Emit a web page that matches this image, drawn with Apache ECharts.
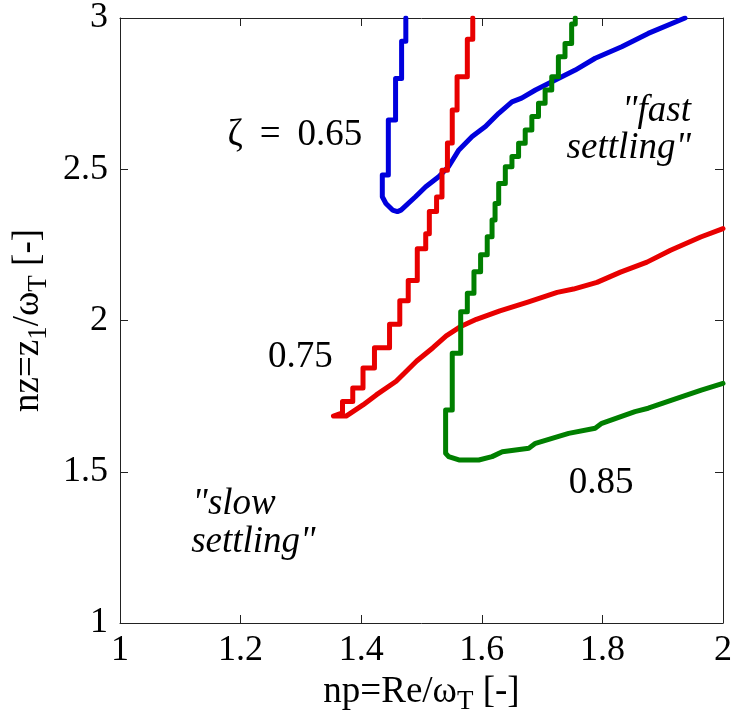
<!DOCTYPE html>
<html>
<head>
<meta charset="utf-8">
<script src="https://cdn.jsdelivr.net/npm/echarts@6/dist/echarts.min.js"></script>
<style>
html,body{margin:0;padding:0;background:#fff;}
#chart{width:735px;height:722px;}
</style>
</head>
<body>
<div id="chart"></div>
<script>
// Axis ticks
const xTicks = [1, 1.2, 1.4, 1.6, 1.8, 2];
const yTicks = [1, 1.5, 2, 2.5, 3];

// zeta = 0.65 boundary (blue)
const zeta065 = [
  [1.474,3.0],[1.474,2.923],[1.467,2.923],[1.467,2.80],[1.457,2.80],[1.457,2.663],
  [1.445,2.663],[1.445,2.481],[1.435,2.481],[1.435,2.409],[1.441,2.387],[1.452,2.365],
  [1.460,2.360],[1.466,2.365],[1.490,2.409],[1.507,2.442],[1.529,2.476],[1.545,2.509],
  [1.562,2.564],[1.584,2.608],[1.606,2.641],[1.628,2.685],[1.650,2.723],[1.666,2.735],
  [1.689,2.762],[1.722,2.795],[1.755,2.828],[1.788,2.867],[1.832,2.905],[1.876,2.949],
  [1.937,3.0]
];

// zeta = 0.75 boundary (red)
const zeta075 = [
  [1.585,3.0],[1.585,2.93],[1.576,2.93],[1.576,2.806],[1.559,2.806],[1.559,2.696],
  [1.551,2.696],[1.551,2.587],[1.543,2.587],[1.543,2.497],[1.534,2.497],[1.534,2.408],
  [1.525,2.408],[1.525,2.36],[1.513,2.36],[1.513,2.287],[1.507,2.287],[1.507,2.237],
  [1.493,2.237],[1.493,2.132],[1.478,2.132],[1.478,2.065],[1.464,2.065],[1.464,1.988],
  [1.447,1.988],[1.447,1.910],[1.422,1.910],[1.422,1.843],[1.403,1.843],[1.403,1.777],
  [1.386,1.777],[1.386,1.732],[1.369,1.732],[1.369,1.695],[1.354,1.684],
  [1.375,1.684],[1.403,1.721],[1.425,1.754],[1.458,1.799],[1.492,1.866],[1.519,1.910],
  [1.541,1.949],[1.564,1.979],[1.591,2.004],[1.630,2.032],[1.675,2.060],[1.725,2.093],
  [1.752,2.104],[1.791,2.126],[1.830,2.160],[1.874,2.193],[1.913,2.232],[1.963,2.276],
  [2.0,2.304]
];

// zeta = 0.85 boundary (green)
const zeta085 = [
  [1.755,3.0],[1.755,2.98],[1.749,2.98],[1.749,2.916],[1.738,2.916],[1.738,2.872],
  [1.727,2.872],[1.727,2.806],[1.716,2.806],[1.716,2.762],[1.705,2.762],[1.705,2.718],
  [1.694,2.718],[1.694,2.674],[1.683,2.674],[1.683,2.630],[1.672,2.630],[1.672,2.586],
  [1.661,2.586],[1.661,2.542],[1.650,2.542],[1.650,2.508],[1.639,2.508],[1.639,2.453],
  [1.628,2.453],[1.628,2.387],[1.622,2.387],[1.622,2.332],[1.617,2.332],[1.617,2.277],
  [1.609,2.277],[1.609,2.217],[1.598,2.217],[1.598,2.161],[1.587,2.161],[1.587,2.090],
  [1.576,2.090],[1.576,2.029],[1.565,2.029],[1.565,1.892],[1.551,1.892],[1.551,1.704],
  [1.540,1.704],[1.540,1.561],[1.545,1.550],[1.562,1.539],[1.595,1.539],[1.617,1.550],
  [1.634,1.566],[1.678,1.578],[1.689,1.594],[1.744,1.627],[1.788,1.644],[1.799,1.660],
  [1.854,1.699],[1.876,1.710],[1.915,1.737],[1.964,1.770],[2.0,1.792]
];

// Annotation texts and anchor points (data coordinates)
const annoTexts = ['{r|\u03b6}{eq|=}{r|0.65}', '{r|0.75}', '{r|0.85}', '{i|"fast}', '{i|settling"}', '{i|"slow}', '{i|settling"}'];
const annoAnchors = [[1.290,2.611],[1.299,1.879],[1.798,1.462],[1.947,2.690],[1.947,2.570],[1.120,1.393],[1.118,1.266]];
const annoAlign = ['center','center','center','right','right','left','left'];

const FONT = 'Liberation Serif';
const AX = '#222';

const chart = echarts.init(document.getElementById('chart'), null, {renderer:'canvas'});

const subRich = {
  n: {fontFamily: FONT, fontSize: 37, color: '#000', verticalAlign: 'top'},
  sub: {fontFamily: FONT, fontSize: 27, color: '#000', padding: [15,0,0,0], verticalAlign: 'top'}
};

const annoRich = {
  r: {fontFamily: FONT, fontSize: 37, color: '#000'},
  eq: {fontFamily: FONT, fontSize: 37, color: '#000', padding: [0, 17, 0, 17]},
  i: {fontFamily: FONT, fontSize: 37, color: '#000', fontStyle: 'italic'}
};

function mainAxis(pos, isX) {
  return {
    type: 'value', position: pos, min: 1, max: isX ? 2 : 3,
    interval: isX ? 0.2 : 0.5,
    axisLine: {show: true, lineStyle: {color: AX, width: 1}},
    axisTick: {show: true, inside: true, length: 8, lineStyle: {color: AX}},
    splitLine: {show: false},
    axisLabel: {
      show: true, fontFamily: FONT, fontSize: 36, color: '#000',
      margin: isX ? 10 : 12,
      formatter: function (v) {
        const arr = isX ? xTicks : yTicks;
        const hit = arr.find(t => Math.abs(t - v) < 1e-6);
        return hit === undefined ? '' : String(hit);
      }
    }
  };
}

function mirrorAxis(pos, isX) {
  return {
    type: 'value', position: pos, min: 1, max: isX ? 2 : 3,
    interval: isX ? 0.2 : 0.5,
    axisLine: {show: true, lineStyle: {color: AX, width: 1}},
    axisTick: {show: true, inside: true, length: 8, lineStyle: {color: AX}},
    splitLine: {show: false},
    axisLabel: {show: false}
  };
}

const xMain = mainAxis('bottom', true);
xMain.name = '{n|np=Re/\u03c9}{sub|T}{n| [-]}';
xMain.nameLocation = 'middle';
xMain.nameGap = 46;
xMain.nameTextStyle = {rich: subRich};

const yMain = mainAxis('left', false);
yMain.name = '{n|nz=z}{sub|1}{n|/\u03c9}{sub|T}{n| [-]}';
yMain.nameLocation = 'middle';
yMain.nameRotate = 90;
yMain.nameGap = 58;
yMain.nameTextStyle = {rich: subRich};

function lineSeries(data, color) {
  return {
    type: 'line', data: data, xAxisIndex: 0, yAxisIndex: 0,
    showSymbol: false, symbol: 'none', smooth: false, clip: true,
    lineStyle: {color: color, width: 5, join: 'round', cap: 'round'},
    animation: false
  };
}

const annoData = annoTexts.map((t, i) => ({
  value: annoAnchors[i],
  label: {
    show: true, position: 'inside', formatter: t,
    align: annoAlign[i], verticalAlign: 'middle',
    rich: annoRich, color: '#000', opacity: 1
  }
}));

chart.setOption({
  backgroundColor: '#fff',
  animation: false,
  grid: {left: 120, top: 18, right: 10, bottom: 99, containLabel: false},
  xAxis: [xMain, mirrorAxis('top', true)],
  yAxis: [yMain, mirrorAxis('right', false)],
  series: [
    lineSeries(zeta065, '#0000dd'),
    lineSeries(zeta075, '#e80000'),
    lineSeries(zeta085, '#007f00'),
    {
      type: 'scatter', symbolSize: 0, data: annoData,
      itemStyle: {opacity: 1},
      xAxisIndex: 0, yAxisIndex: 0, silent: true, animation: false, z: 5
    }
  ]
});
</script>
</body>
</html>
